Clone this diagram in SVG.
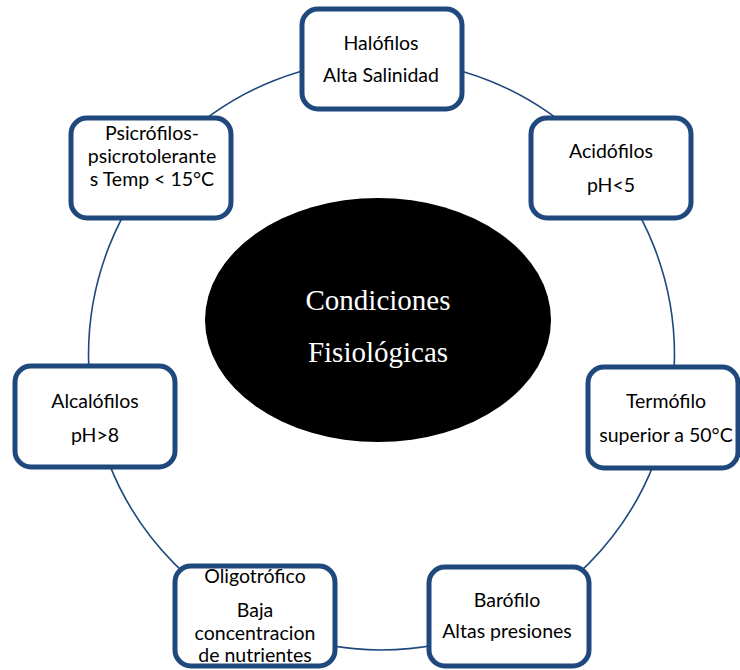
<svg xmlns="http://www.w3.org/2000/svg" width="740" height="670" viewBox="0 0 740 670">
<style>
.box{fill:#ffffff;stroke:#1f497d;stroke-width:5}
.conn{fill:none;stroke:#1f497d;stroke-width:1.6}
.t{font-family:Lato,"Liberation Sans",sans-serif;font-size:19.5px;fill:#000;text-anchor:middle}
.c{font-family:"Liberation Serif","Times New Roman",serif;font-size:29px;fill:#fff;text-anchor:middle}
</style>
<rect width="740" height="670" fill="#fff"/>
<g id="connectors">
<ellipse class="conn" cx="381.5" cy="355" rx="293" ry="295"/>
</g>
<g id="halofilos">
<rect class="box" x="302" y="9" width="160" height="100" rx="16"/>
<text class="t" x="381" y="50">Halófilos</text>
<text class="t" x="381" y="82">Alta Salinidad</text>
</g>
<g id="acidofilos">
<rect class="box" x="531" y="118" width="160" height="100" rx="16"/>
<text class="t" x="611" y="158">Acidófilos</text>
<text class="t" x="611" y="192">pH&lt;5</text>
</g>
<g id="termofilo">
<rect class="box" x="588" y="367" width="150" height="101" rx="16"/>
<text class="t" x="666" y="408">Termófilo</text>
<text class="t" x="666" y="442">superior a 50°C</text>
</g>
<g id="barofilo">
<rect class="box" x="429" y="567" width="160" height="99" rx="16"/>
<text class="t" x="507" y="607">Barófilo</text>
<text class="t" x="507" y="638">Altas presiones</text>
</g>
<g id="oligotrofico">
<rect class="box" x="175" y="566" width="160" height="100" rx="16"/>
<text class="t" x="255" y="583">Oligotrófico</text>
<text class="t" x="255" y="617">Baja</text>
<text class="t" x="255" y="640">concentracion</text>
<text class="t" x="255" y="662">de nutrientes</text>
</g>
<g id="alcalofilos">
<rect class="box" x="15" y="366" width="160" height="101" rx="16"/>
<text class="t" x="95" y="408">Alcalófilos</text>
<text class="t" x="95" y="442">pH&gt;8</text>
</g>
<g id="psicrofilos">
<rect class="box" x="71" y="118" width="160" height="100" rx="16"/>
<text class="t" x="152" y="140">Psicrófilos-</text>
<text class="t" x="152" y="163">psicrotolerante</text>
<text class="t" x="152" y="186">s Temp &lt; 15°C</text>
</g>
<g id="centro">
<ellipse cx="378" cy="320" rx="173" ry="122" fill="#000"/>
<text class="c" x="378" y="310">Condiciones</text>
<text class="c" x="378" y="362">Fisiológicas</text>
</g>
</svg>
